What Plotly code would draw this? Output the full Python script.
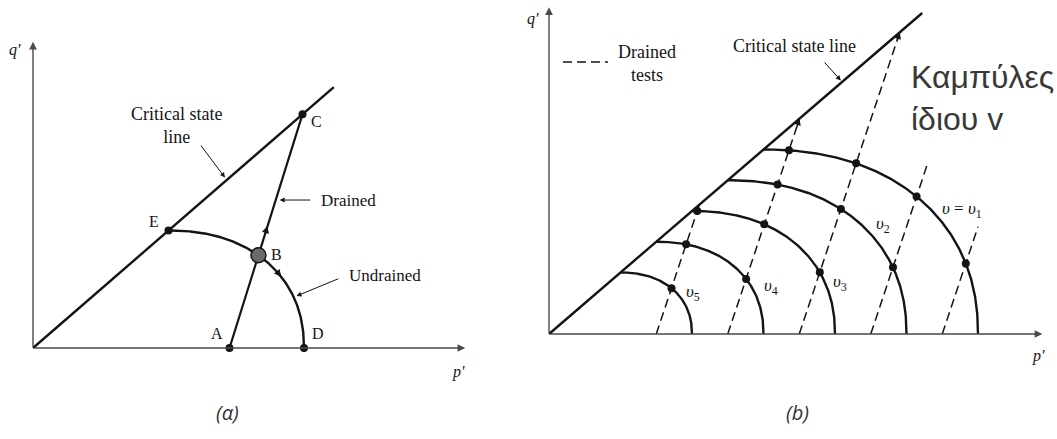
import numpy as np
import plotly.graph_objects as go

# ---------------- Panel (α): drained and undrained paths to the CSL ----------------
M_A = 0.867               # slope q'/p' of the critical state line
P_E = 2.0                 # E: top of the undrained path, on the CSL
P_D = 4.0                 # D: start of the undrained path
P_A = 2.9                 # A: start of the drained path
DRAINED_SLOPE_A = 3.2     # dq'/dp' of the drained path A -> C
CSL_END_A = 4.44          # p' where the drawn CSL stops
AXIS_END_A = (6.38, 4.52) # p', q' at the axis arrow tips

# ---------------- Panel (b): constant-v undrained paths and drained tests ----------------
M_B = 0.86
P0_B = [6, 5, 4, 3, 2]                       # p' where each constant-v curve meets the p' axis
V_SUBS = ["1", "2", "3", "4", "5"]
DRAINED_START_B = [1.5, 2.5, 3.5, 4.5, 5.5]  # p' where each drained test starts
DRAINED_END_Q_B = [None, None, None, 2.4, 1.5]  # None: the test runs on to the CSL
DRAINED_ARROW_B = [False, True, True, False, False]
DRAINED_SLOPE_B = 3.0
CSL_END_B = 5.22
AXIS_END_B = (6.9, 4.57)

SHAPE_N = 2.2             # exponent of the constant-v curves

# ---------------- page geometry (pixels) ----------------
W, H = 1057, 439
ORIGIN_A, SCALE_A = (33, 348), 67.75
ORIGIN_B, SCALE_B = (549, 334), 71.5
INK = "#141414"
AXIS_INK = "#4a4a4a"
SERIF = "Liberation Serif"


def axis_ranges(origin, scale, dom):
    x0 = (dom[0] * W - origin[0]) / scale
    x1 = (dom[1] * W - origin[0]) / scale
    y0 = -(H - origin[1]) / scale
    y1 = origin[1] / scale
    return [x0, x1], [y0, y1]


def paper(xp, yp):
    return xp / W, 1 - yp / H


def undrained_curve(p0, m, n=SHAPE_N, k=400):
    pc = p0 / 2.0
    t = np.linspace(0, np.pi / 2, k)
    e = 2.0 / n
    p = pc + (p0 - pc) * np.cos(t) ** e
    q = m * pc * np.sin(t) ** e
    return p, q


def cross(p, q, ps, slope, qmax):
    f = q - slope * (p - ps)
    idx = np.where(np.sign(f[:-1]) != np.sign(f[1:]))[0]
    for i in idx:
        w = f[i] / (f[i] - f[i + 1])
        pi, qi = p[i] + w * (p[i + 1] - p[i]), q[i] + w * (q[i + 1] - q[i])
        if 0 < qi <= qmax + 1e-9:
            return pi, qi
    return None


fig = go.Figure()
ann = []
shapes = []


def arrow(x, y, xref, yref, ax, ay, width=1.0, size=1.0, color=INK, standoff=0, axref=None):
    a = dict(x=x, y=y, xref=xref, yref=yref, ax=ax, ay=ay, showarrow=True, standoff=standoff,
             arrowhead=2, arrowsize=size, arrowwidth=width, arrowcolor=color, text="",
             font=dict(size=1))
    if axref:
        a.update(axref=axref[0], ayref=axref[1])
    ann.append(a)


# ================= Panel (α) =================
XA, YA = "x", "y"
# critical state line
fig.add_trace(go.Scatter(x=[0, CSL_END_A], y=[0, M_A * CSL_END_A], mode="lines",
                         line=dict(color=INK, width=2.4), xaxis=XA, yaxis=YA, hoverinfo="skip"))
# undrained path D -> E
pa, qa = undrained_curve(P_D, M_A)
fig.add_trace(go.Scatter(x=pa, y=qa, mode="lines", line=dict(color=INK, width=2.4),
                         xaxis=XA, yaxis=YA, hoverinfo="skip"))
# drained path A -> C
p_c = DRAINED_SLOPE_A * P_A / (DRAINED_SLOPE_A - M_A)
q_c = M_A * p_c
fig.add_trace(go.Scatter(x=[P_A, p_c], y=[0, q_c], mode="lines", line=dict(color=INK, width=2.2),
                         xaxis=XA, yaxis=YA, hoverinfo="skip"))
# B: where the two paths cross
p_b, q_b = cross(pa, qa, P_A, DRAINED_SLOPE_A, q_c)
fig.add_trace(go.Scatter(x=[P_A, P_D, P_E, p_c], y=[0, 0, M_A * P_E, q_c], mode="markers",
                         marker=dict(color=INK, size=8), xaxis=XA, yaxis=YA, hoverinfo="skip"))
fig.add_trace(go.Scatter(x=[p_b], y=[q_b], mode="markers",
                         marker=dict(color="#6a6a6a", size=15, line=dict(color=INK, width=1.5)),
                         xaxis=XA, yaxis=YA, hoverinfo="skip"))

# axes with arrow heads
arrow(AXIS_END_A[0], 0, XA, YA, 0, 0, 1.4, 1.1, AXIS_INK, axref=(XA, YA))
arrow(0, AXIS_END_A[1], XA, YA, 0, 0, 1.4, 1.1, AXIS_INK, axref=(XA, YA))

# small direction arrows on the two paths
q_mid = 1.8
p_mid = P_A + q_mid / DRAINED_SLOPE_A
d = np.array([1.0, DRAINED_SLOPE_A]); d /= np.linalg.norm(d)
arrow(p_mid, q_mid, XA, YA, -d[0] * 9, d[1] * 9, 1.6, 0.9)
i_u = int(np.argmin(np.abs(qa - 1.05)))
du = np.array([pa[i_u] - pa[i_u + 5], qa[i_u] - qa[i_u + 5]]); du /= np.linalg.norm(du)
arrow(pa[i_u], qa[i_u], XA, YA, -du[0] * 9, du[1] * 9, 1.6, 0.9)

# pointer arrows of the labels
p_ptr = 2.86
arrow(p_ptr, M_A * p_ptr, XA, YA, -27, -36, standoff=3)
q_dr = 2.184
arrow(P_A + q_dr / DRAINED_SLOPE_A, q_dr, XA, YA, 36, 0, standoff=4)
i_un = int(np.argmin(np.abs(qa - 0.75)))
arrow(pa[i_un], qa[i_un], XA, YA, 46, -19, standoff=3)


def label(xp, yp, text, size=16, anchor="center", family=SERIF, color=INK):
    x, y = paper(xp, yp)
    ann.append(dict(x=x, y=y, xref="paper", yref="paper", text=text, showarrow=False,
                    xanchor=anchor, yanchor="middle", align="left" if anchor == "left" else "center",
                    font=dict(family=family, size=size, color=color)))


label(176, 126, "Critical state<br>line", 18)
label(319, 200, "Drained", 17, "left")
label(347, 275, "Undrained", 17, "left")
label(316, 122, "C", 16)
label(154, 221, "E", 16)
label(276, 254, "B", 16)
label(217, 333, "A", 16)
label(318, 333, "D", 16)
label(15, 50, "<i>q'</i>", 16)
label(458, 372, "<i>p'</i>", 16)

# ================= Panel (b) =================
XB, YB = "x2", "y2"
fig.add_trace(go.Scatter(x=[0, CSL_END_B], y=[0, M_B * CSL_END_B], mode="lines",
                         line=dict(color=INK, width=2.4), xaxis=XB, yaxis=YB, hoverinfo="skip"))
curves = []
for p0 in P0_B:
    pb, qb = undrained_curve(p0, M_B)
    curves.append((pb, qb))
    fig.add_trace(go.Scatter(x=pb, y=qb, mode="lines", line=dict(color=INK, width=2.4),
                             xaxis=XB, yaxis=YB, hoverinfo="skip"))

dot_p, dot_q = [], []
for ps, qend, with_arrow in zip(DRAINED_START_B, DRAINED_END_Q_B, DRAINED_ARROW_B):
    if qend is None:
        pe = DRAINED_SLOPE_B * ps / (DRAINED_SLOPE_B - M_B)
        qe = M_B * pe
    else:
        qe = qend
        pe = ps + qe / DRAINED_SLOPE_B
    fig.add_trace(go.Scatter(x=[ps, pe], y=[0, qe], mode="lines",
                             line=dict(color=INK, width=1.5, dash="9px,5px"),
                             xaxis=XB, yaxis=YB, hoverinfo="skip"))
    for pb, qb in curves:
        hit = cross(pb, qb, ps, DRAINED_SLOPE_B, qe)
        if hit is not None:
            dot_p.append(hit[0]); dot_q.append(hit[1])
    if with_arrow:
        d = np.array([1.0, DRAINED_SLOPE_B]); d /= np.linalg.norm(d)
        arrow(pe, qe, XB, YB, -d[0] * 10, d[1] * 10, 1.5, 0.9)

fig.add_trace(go.Scatter(x=dot_p, y=dot_q, mode="markers", marker=dict(color=INK, size=8),
                         xaxis=XB, yaxis=YB, hoverinfo="skip"))

arrow(AXIS_END_B[0], 0, XB, YB, 0, 0, 1.4, 1.1, AXIS_INK, axref=(XB, YB))
arrow(0, AXIS_END_B[1], XB, YB, 0, 0, 1.4, 1.1, AXIS_INK, axref=(XB, YB))
p_ptr_b = 4.1
arrow(p_ptr_b, M_B * p_ptr_b, XB, YB, -19, -21, standoff=2)

label(794, 46, "Critical state line", 18)
label(647, 64, "Drained<br>tests", 18)
x0, y0 = paper(563, 62)
x1, _ = paper(608, 62)
shapes.append(dict(type="line", xref="paper", yref="paper", x0=x0, x1=x1, y0=y0, y1=y0,
                   line=dict(color=INK, width=1.5, dash="9px,5px")))
label(533, 19, "<i>q'</i>", 16)
label(1038, 356, "<i>p'</i>", 16)

v_pos = [(962, 210), (883, 225), (840, 283), (771, 287), (693, 293)]
for i, (sub, (xp, yp)) in enumerate(zip(V_SUBS, v_pos)):
    txt = f"<i>υ</i><sub>{sub}</sub>"
    if i == 0:
        txt = "<i>υ</i> = " + txt
    label(xp, yp, txt, 17)

label(909, 98, "Καμπύλες<br>ίδιου v", 32, "left", "Liberation Sans", "#383838")

# captions
label(227, 412, "<i>(α)</i>", 20, family="Open Sans", color="#333333")
label(797, 412, "<i>(b)</i>", 20, family="Open Sans", color="#333333")

dom_a, dom_b = [0.0, 0.5], [0.5, 1.0]
xr_a, yr_a = axis_ranges(ORIGIN_A, SCALE_A, dom_a)
xr_b, yr_b = axis_ranges(ORIGIN_B, SCALE_B, dom_b)
hidden = dict(visible=False, showgrid=False, zeroline=False, fixedrange=True)
fig.update_layout(
    width=W, height=H, margin=dict(l=0, r=0, t=0, b=0),
    paper_bgcolor="white", plot_bgcolor="white", showlegend=False,
    xaxis=dict(domain=dom_a, range=xr_a, **hidden),
    yaxis=dict(domain=[0, 1], range=yr_a, **hidden),
    xaxis2=dict(domain=dom_b, range=xr_b, anchor="y2", **hidden),
    yaxis2=dict(domain=[0, 1], range=yr_b, anchor="x2", **hidden),
    annotations=ann, shapes=shapes,
)
fig.write_html("out.html")
